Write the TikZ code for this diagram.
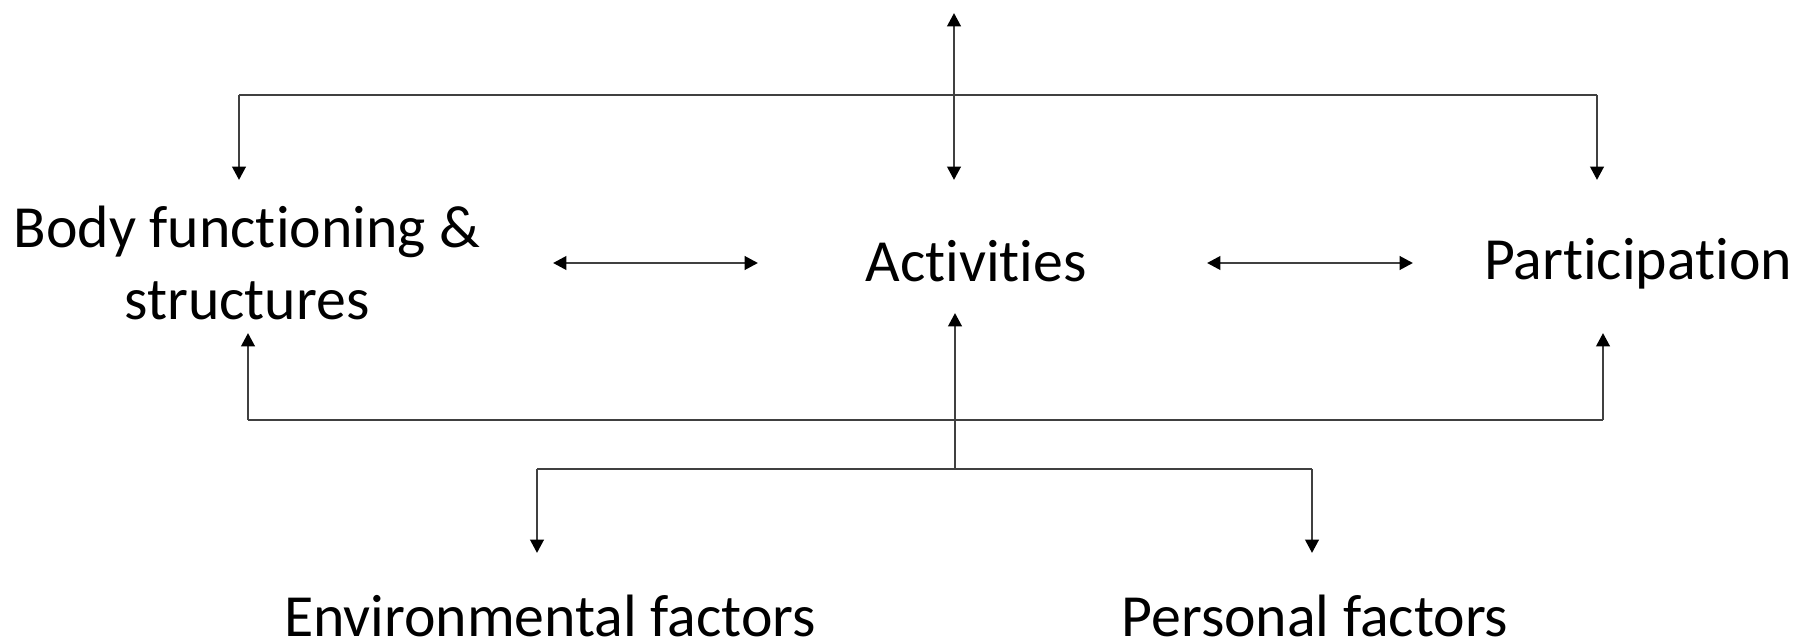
\documentclass[tikz,border=0pt]{standalone}
\usepackage{fontspec}
\setmainfont[Ligatures=NoCommon]{Carlito}
\usetikzlibrary{arrows.meta}
\tikzset{
every picture/.style={
line width=0.8pt
}}

\begin{document}
\begin{tikzpicture}[x=0.01cm, y=-0.01cm,
>={Triangle[length=3.8pt, width=3.8pt, color=black]},
term/.style = {font=\fontsize{17}{20.5}\selectfont, inner sep=0pt, align=center, anchor=base},
link/.style = {draw=black!75}]
\useasboundingbox (0,0) rectangle (1804,643);
\node[term] at (247,320) (body) {Body functioning \&\\structures};
\node[term] at (976,282) (act) {Activities};
\node[term] at (1638,280) (part) {Participation};
\node[term] at (550,636) (env) {Environmental factors};
\node[term] at (1315,636) (pers) {Personal factors};
% top bus
\coordinate (topend) at (954,13);
\coordinate (actin) at (954,180);
\coordinate (tl) at (239,95);
\coordinate (tr) at (1597,95);
\coordinate (bodyin) at (239,180);
\coordinate (partin) at (1597,180);
\draw[link] (tl) -- (tr);
\draw[link, ->] (tl) -- (bodyin);
\draw[link, ->] (tr) -- (partin);
\draw[link, <->] (topend) -- (actin);
% side arrows
\coordinate (bodyout) at (553,263);
\coordinate (actleft) at (758,263);
\coordinate (actright) at (1207,263);
\coordinate (partleft) at (1413,263);
\draw[link, <->] (bodyout) -- (actleft);
\draw[link, <->] (actright) -- (partleft);
% bottom bus
\coordinate (bl) at (248,420);
\coordinate (br) at (1603,420);
\coordinate (bodyup) at (248,333);
\coordinate (partup) at (1603,333);
\draw[link] (bl) -- (br);
\draw[link, ->] (bl) -- (bodyup);
\draw[link, ->] (br) -- (partup);
% factors
\coordinate (fmid) at (955,469);
\coordinate (actup) at (955,313);
\coordinate (fl) at (537,469);
\coordinate (fr) at (1312,469);
\coordinate (envin) at (537,553);
\coordinate (persin) at (1312,553);
\draw[link, ->] (fmid) -- (actup);
\draw[link] (fl) -- (fr);
\draw[link, ->] (fl) -- (envin);
\draw[link, ->] (fr) -- (persin);
\end{tikzpicture}
\end{document}
